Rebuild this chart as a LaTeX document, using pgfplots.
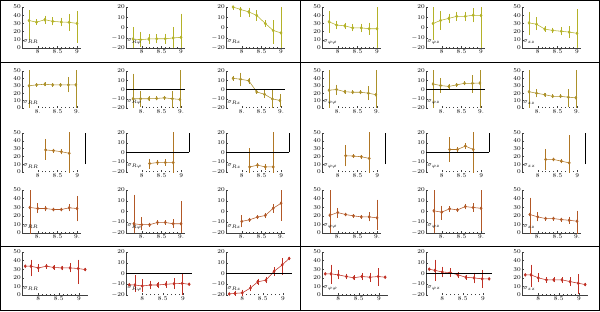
\documentclass[border=0pt]{standalone}
\usepackage{pgfplots}
\pgfplotsset{compat=1.18}
\definecolor{c1}{RGB}{180,178,40}
\definecolor{c2}{RGB}{172,145,42}
\definecolor{c3}{RGB}{176,118,36}
\definecolor{c4}{RGB}{178,88,38}
\definecolor{c5}{RGB}{192,48,36}
\pgfplotsset{
 base/.style={scale only axis, axis lines*=left, xmin=7.6, tick align=inside,
   major tick length=2pt, minor tick length=1pt, minor y tick num=4, minor x tick num=4,
   xtick={8,8.5,9},
   ticklabel style={font=\fontsize{5.6}{5.6}\selectfont, inner sep=1pt},
   axis line style={line width=0.4pt, black!75}, tick style={line width=0.3pt, black!75}},
 pos/.style={ymin=0, ymax=50, ytick={0,10,20,30,40,50}},
 sym/.style={ymin=-20, ymax=20, ytick={-20,-10,0,10,20}},
 ra/.style={xmax=9.1, width=59pt, height=41pt, xticklabels={$8$,$8.5$,$9$}},
 rb/.style={xmax=9.1, width=59pt, height=37pt, xticklabels={$8.$,$8.5$,$9.$}},
 rc/.style={xmax=9.2, width=63pt, height=39pt, xticklabels={$8$,$8.5$,$9$}},
 rd/.style={xmax=9.1, width=59pt, height=43pt, xticklabels={$8.$,$8.5$,$9.$}},
 re/.style={xmax=9.22, width=66pt, height=43pt, xticklabels={$8$,$8.5$,$9$}},
 nox/.style={x axis line style={draw=none}},
 zl/.style={nox, extra description/.code={\draw[black,line width=0.5pt] (0,0.5)--(1,0.5);}},
 zlr/.style={nox, extra description/.code={\draw[black,line width=0.5pt] (0,0.5)--(1,0.5) (1,0.5)--(1,1);}},
 pr/.style={nox, extra description/.code={\draw[black,line width=0.5pt] (1,0.2)--(1,1);}},
}
\newcommand{\pnl}[6]{%
 \begin{axis}[base, at={(#1,#2)}, #3]
 \addplot[#4, line width=0.55pt, mark=diamond*, mark size=1.4pt,
   error bars/.cd, y dir=both, y explicit,
   error bar style={line width=0.6pt},
   error mark options={mark size=1.1pt, line width=0.5pt}]
   table[row sep=\\, x=x, y=y, y error plus=ep, y error minus=em] {#6};
 \node[anchor=west, font=\fontsize{6.5}{6.5}\selectfont, inner sep=0.5pt] at (rel axis cs:0.01,0.15) {#5};
 \end{axis}}
\begin{document}
\begin{tikzpicture}[x=1pt,y=1pt]
\useasboundingbox (0,0) rectangle (600,311);
\draw[line width=0.8pt] (0.4,0.4) rectangle (599.6,310.6);
\draw[line width=0.8pt] (0,249) -- (600,249);
\draw[line width=0.8pt] (0,65) -- (600,65);
\draw[line width=0.8pt] (300,0) -- (300,311);
% ---------------- Row 1
\pnl{22pt}{263pt}{ra,pos}{c1}{$\sigma_{RR}$}{x y ep em\\ 7.78 33.5 11 23\\ 7.97 31.5 2 2\\ 8.18 34.5 3.5 3.5\\ 8.38 32.5 3.5 3.5\\ 8.6 31.7 4 4\\ 8.8 31.3 9 9\\ 9.0 30 14 22\\}
\pnl{126pt}{263pt}{ra,sym}{c1}{$\sigma_{R\varphi}$}{x y ep em\\ 7.78 -11.2 10.7 10\\ 7.97 -11.9 6.5 6\\ 8.18 -11.2 4 4\\ 8.38 -11 3.5 3.5\\ 8.6 -11 4 4\\ 8.8 -10.2 9.7 9.8\\ 9.0 -9.6 22 12\\}
\pnl{226pt}{263pt}{ra,sym}{c1}{$\sigma_{Rz}$}{x y ep em\\ 7.78 20 1.5 1.5\\ 7.97 17.6 3 6\\ 8.18 15.2 3 4\\ 8.38 11.8 4 4\\ 8.6 3.9 2 2\\ 8.8 -2.9 9 12\\ 9.0 -5.3 25 16\\}
\pnl{322pt}{263pt}{ra,pos}{c1}{$\sigma_{\varphi\varphi}$}{x y ep em\\ 7.78 32 12 12\\ 7.97 28 4 4\\ 8.18 27 2.5 2.5\\ 8.38 24.5 3 3\\ 8.6 24.5 4 4\\ 8.8 23.5 6 6\\ 9.0 23.5 25 25\\}
\pnl{426pt}{263pt}{ra,sym}{c1}{$\sigma_{\varphi z}$}{x y ep em\\ 7.78 3.9 19 14.8\\ 7.97 6.9 8 8\\ 8.18 8.9 3.5 3.5\\ 8.38 10.9 3.5 3.5\\ 8.6 10.9 3.5 3.5\\ 8.8 12 6 6\\ 9.0 11.7 9 34\\}
\pnl{522pt}{263pt}{ra,pos}{c1}{$\sigma_{zz}$}{x y ep em\\ 7.78 30.6 12.5 13.8\\ 7.97 29 7.7 6\\ 8.18 23 2 2\\ 8.38 21.4 2 2\\ 8.6 20.4 3.3 3.3\\ 8.8 19.4 6 6\\ 9.0 17.9 28 25\\}
% ---------------- Row 2
\pnl{22pt}{203pt}{rb,pos,nox}{c2}{$\sigma_{RR}$}{x y ep em\\ 7.78 30 25 32\\ 7.97 31.25 1 1\\ 8.18 32.1 1.5 1.5\\ 8.38 31.25 1 1\\ 8.58 31.25 1 1\\ 8.78 31.25 8.5 8.5\\ 8.97 31.25 25 37\\}
\pnl{126pt}{203pt}{rb,sym,zl}{c2}{$\sigma_{R\varphi}$}{x y ep em\\ 7.78 -10 26 10.7\\ 7.97 -10 6.7 7.3\\ 8.18 -10 1.5 1.5\\ 8.38 -9.7 1 1\\ 8.58 -9 1 1\\ 8.78 -10 7 9\\ 8.97 -10.7 32 12\\}
\pnl{226pt}{203pt}{rb,sym,zl}{c2}{$\sigma_{Rz}$}{x y ep em\\ 7.78 12.1 1.5 1.5\\ 7.97 11.1 6 6.5\\ 8.18 9.5 2 2\\ 8.38 -2.6 1 1\\ 8.58 -5.2 3 3\\ 8.78 -10.2 8 10\\ 8.97 -11.8 6 6\\}
\pnl{322pt}{203pt}{rb,pos,nox}{c2}{$\sigma_{\varphi\varphi}$}{x y ep em\\ 7.78 24 30 30\\ 7.97 25 5 6\\ 8.18 22 1.5 1.5\\ 8.38 21.3 1 1\\ 8.58 21.3 1.5 1.5\\ 8.78 20 8 8\\ 8.97 18 35 25\\}
\pnl{426pt}{203pt}{rb,sym,zl}{c2}{$\sigma_{\varphi z}$}{x y ep em\\ 7.78 6 25 25\\ 7.97 4.3 6.7 6.6\\ 8.18 3.3 1.5 1.5\\ 8.38 5 1 1\\ 8.58 6.7 1 1\\ 8.78 6.7 7.3 9\\ 8.97 7 20 30\\}
\pnl{522pt}{203pt}{rb,pos,nox}{c2}{$\sigma_{zz}$}{x y ep em\\ 7.78 22 30 25\\ 7.97 20 4 4\\ 8.18 18 1 1\\ 8.38 15.8 1 1\\ 8.58 15.8 1 1\\ 8.78 14.6 9.4 11.3\\ 8.97 13.75 40 15\\}
% ---------------- Row 3
\pnl{22pt}{139pt}{rc,pos,pr}{c3}{$\sigma_{RR}$}{x y ep em\\ 8.2 28.3 12.7 10.9\\ 8.4 27.4 1 1\\ 8.6 26 2 2\\ 8.8 24 30 30\\}
\pnl{126pt}{139pt}{rc,sym,zlr}{c3}{$\sigma_{R\varphi}$}{x y ep em\\ 8.2 -11.3 4 4\\ 8.4 -10.3 1.5 1.5\\ 8.6 -10.3 2 2\\ 8.8 -10.3 35 15\\}
\pnl{226pt}{139pt}{rc,sym,zlr}{c3}{$\sigma_{Rz}$}{x y ep em\\ 8.2 -14.8 17.8 10\\ 8.4 -13 1.5 1.5\\ 8.6 -14.8 2 2\\ 8.8 -14.8 40 10\\}
\pnl{322pt}{139pt}{rc,pos,pr}{c3}{$\sigma_{\varphi\varphi}$}{x y ep em\\ 8.2 20.9 11.7 12.2\\ 8.4 20.4 1 1\\ 8.6 19.6 1 1\\ 8.8 17.4 35 20\\}
\pnl{426pt}{139pt}{rc,sym,zlr}{c3}{$\sigma_{\varphi z}$}{x y ep em\\ 8.2 3.1 11.5 11.8\\ 8.4 3.1 1 1\\ 8.6 6.6 2 2\\ 8.8 3.1 20 30\\}
\pnl{522pt}{139pt}{rc,pos,pr}{c3}{$\sigma_{zz}$}{x y ep em\\ 8.2 16.1 12 11.8\\ 8.4 16.1 1 1\\ 8.6 13.9 1.5 1.5\\ 8.8 11.7 34 15\\}
% ---------------- Row 4
\pnl{22pt}{78pt}{rd,pos}{c4}{$\sigma_{RR}$}{x y ep em\\ 7.8 29.7 25 32\\ 8.0 28.5 5 4\\ 8.2 28.5 2 2\\ 8.4 27.3 1 1\\ 8.6 27.3 1 1\\ 8.8 29.3 3 3\\ 9.0 28.5 13.5 13.7\\}
\pnl{126pt}{78pt}{rd,sym}{c4}{$\sigma_{R\varphi}$}{x y ep em\\ 7.8 -11.4 26 9.6\\ 8.0 -12.3 6 4\\ 8.2 -12.3 1 1\\ 8.4 -10.2 1 1\\ 8.6 -10.2 1 1\\ 8.8 -11.4 3 2.5\\ 9.0 -11.4 20 9.6\\}
\pnl{226pt}{78pt}{rd,sym}{c4}{$\sigma_{Rz}$}{x y ep em\\ 8.0 -9.2 4.6 4.6\\ 8.2 -7.7 1 1\\ 8.4 -5.2 1 1\\ 8.6 -3.7 1.5 1.5\\ 8.8 3 3 3\\ 9.0 7.7 12.3 15.4\\}
\pnl{322pt}{78pt}{rd,pos}{c4}{$\sigma_{\varphi\varphi}$}{x y ep em\\ 7.8 20.7 30 20\\ 8.0 23.8 4 5\\ 8.2 21.5 1 1\\ 8.4 19.9 1 1\\ 8.6 18.75 1 1\\ 8.8 18.75 4 4\\ 9.0 17.6 20 12.6\\}
\pnl{426pt}{78pt}{rd,sym}{c4}{$\sigma_{\varphi z}$}{x y ep em\\ 7.8 0.6 20 20\\ 8.0 -0.6 5 6\\ 8.2 2.5 1.5 1.5\\ 8.4 1.5 1 1\\ 8.6 4.6 1.5 1.5\\ 8.8 3.7 3 3\\ 9.0 3 17 20\\}
\pnl{522pt}{78pt}{rd,pos}{c4}{$\sigma_{zz}$}{x y ep em\\ 7.8 21.5 18.5 25\\ 8.0 18.75 4 4\\ 8.2 16.8 1 1\\ 8.4 16.8 1 1\\ 8.6 15.6 1 1\\ 8.8 14.8 3 3\\ 9.0 13.7 11 16\\}
% ---------------- Row 5
\pnl{22pt}{16pt}{re,pos}{c5}{$\sigma_{RR}$}{x y ep em\\ 7.68 33.5 0 0\\ 7.82 33.5 6.5 10.5\\ 8.0 31.5 3 3\\ 8.2 33.5 1.5 1.5\\ 8.38 32 1.5 1.5\\ 8.58 31.5 1.5 1.5\\ 8.78 31.5 4 4\\ 8.98 30.8 9 17\\ 9.15 29.6 0 0\\}
\pnl{126pt}{16pt}{re,sym,zl}{c5}{$\sigma_{R\varphi}$}{x y ep em\\ 7.68 -10.5 0 0\\ 7.82 -10.7 8 5.5\\ 8.0 -11.6 5 5\\ 8.2 -10.7 3 3\\ 8.38 -10.7 2 2\\ 8.58 -10 2 2\\ 8.78 -9.5 4 4\\ 8.98 -9.2 8 10\\ 9.15 -10 0 0\\}
\pnl{226pt}{16pt}{re,sym,zl}{c5}{$\sigma_{Rz}$}{x y ep em\\ 7.68 -19 0 0\\ 7.82 -18.5 1.5 1.5\\ 8.0 -18 2 2\\ 8.2 -13.5 2 2\\ 8.38 -7.7 2 2\\ 8.58 -6.2 2 2\\ 8.78 2 3 3\\ 8.98 8 5 8\\ 9.15 14 0 0\\}
\pnl{322pt}{16pt}{re,pos}{c5}{$\sigma_{\varphi\varphi}$}{x y ep em\\ 7.68 24.6 0 0\\ 7.82 24.6 9.4 10.6\\ 8.0 23.4 4 4\\ 8.2 21.5 2 2\\ 8.38 20 1.5 1.5\\ 8.58 21.5 3 3\\ 8.78 20.7 4 4\\ 8.98 21.5 8.2 9.8\\ 9.15 20.7 0 0\\}
\pnl{426pt}{16pt}{re,sym,zl}{c5}{$\sigma_{\varphi z}$}{x y ep em\\ 7.68 4 0 0\\ 7.82 2.9 9 9\\ 8.0 1.4 4 4\\ 8.2 0.8 3 3\\ 8.38 -1.2 1.5 1.5\\ 8.58 -3.5 1.5 1.5\\ 8.78 -4.1 4 4\\ 8.98 -5 7.3 7.6\\ 9.15 -5 0 0\\}
\pnl{522pt}{16pt}{re,pos}{c5}{$\sigma_{zz}$}{x y ep em\\ 7.68 23.4 0 0\\ 7.82 23.4 10.6 12.4\\ 8.0 20 4 4\\ 8.2 17.6 2 2\\ 8.38 17.6 1.5 1.5\\ 8.58 17.6 2 2\\ 8.78 15.6 4 4\\ 8.98 13.7 9 10.7\\ 9.15 12.1 0 0\\}
\end{tikzpicture}
\end{document}
